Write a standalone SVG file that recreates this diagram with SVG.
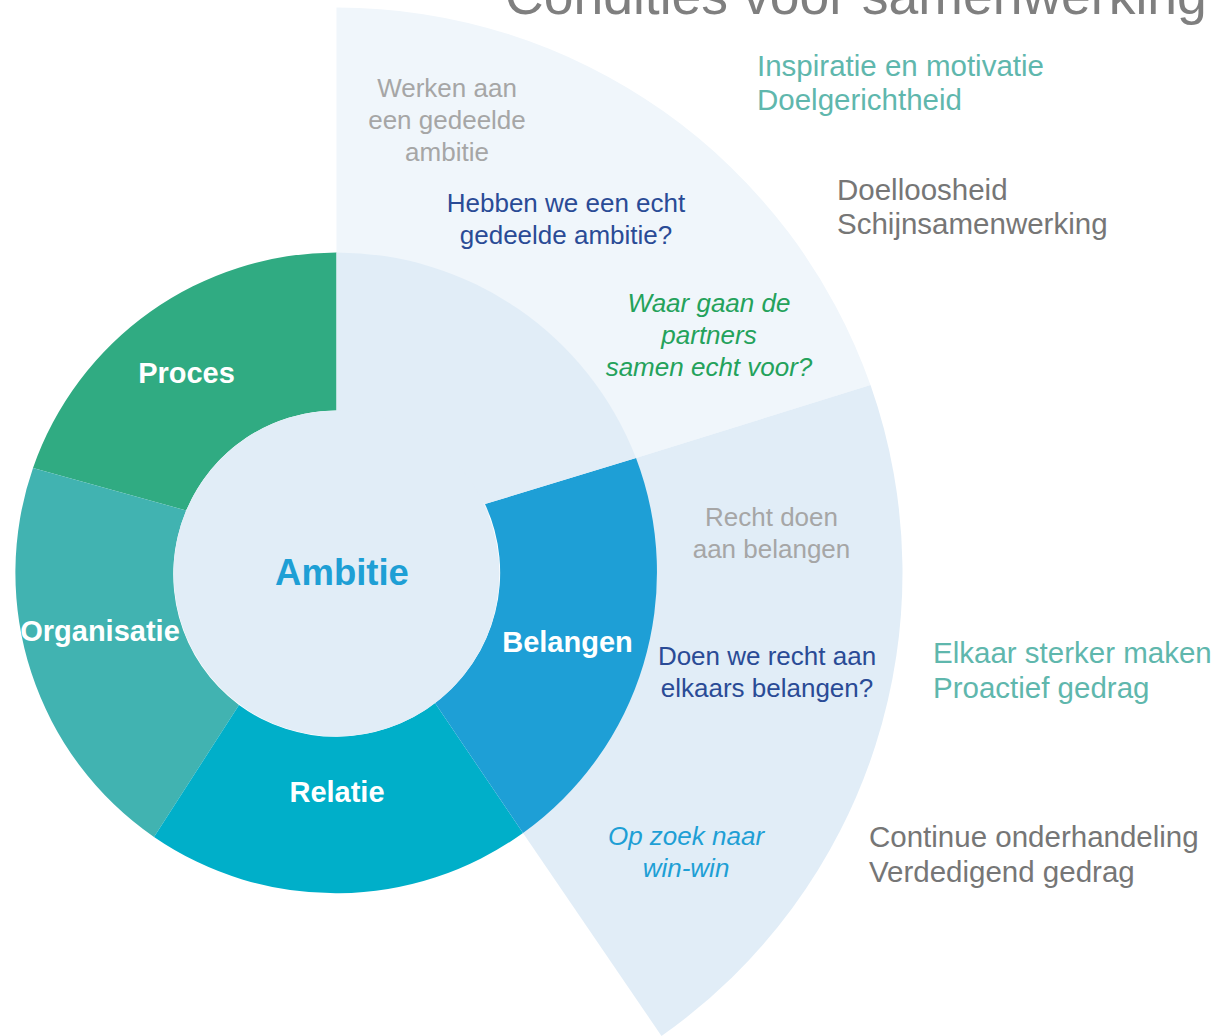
<svg xmlns="http://www.w3.org/2000/svg" width="1228" height="1036" viewBox="0 0 1228 1036">
<style>
text{font-family:"Liberation Sans",Arial,Helvetica,sans-serif}
.lab{font-size:29px;font-weight:bold;fill:#ffffff;text-anchor:middle}
.c{text-anchor:middle;font-size:26px}
.gray{fill:#a6a6a6}
.navy{fill:#2a4b96}
.it{font-style:italic}
.side{font-size:29.5px}
.teal{fill:#5fb7ad}
.dgray{fill:#767676}
</style>
<rect x="0" y="0" width="1228" height="1036" fill="#ffffff"/>
<g id="title">
<text x="505" y="14" font-size="53.5" fill="#7f7f7f">Condities voor samenwerking</text>
</g>
<g id="sector-ambitie-outer">
<path d="M336.5,573.5 L336.5,7.5 A566 566 0 0 1 870.5,385 L636,458 Z" fill="#f0f6fb"/>
<text class="c gray" x="447" y="97">Werken aan</text>
<text class="c gray" x="447" y="129">een gedeelde</text>
<text class="c gray" x="447" y="161">ambitie</text>
<text class="c navy" x="566" y="212">Hebben we een echt</text>
<text class="c navy" x="566" y="244">gedeelde ambitie?</text>
<text class="c it" x="709" y="312" fill="#24a25b" font-size="26.5">Waar gaan de</text>
<text class="c it" x="709" y="344" fill="#24a25b" font-size="26.5">partners</text>
<text class="c it" x="709" y="376" fill="#24a25b" font-size="26.5">samen echt voor?</text>
<text class="side teal" x="757" y="76">Inspiratie en motivatie</text>
<text class="side teal" x="757" y="110">Doelgerichtheid</text>
<text class="side dgray" x="837" y="200">Doelloosheid</text>
<text class="side dgray" x="837" y="234">Schijnsamenwerking</text>
</g>
<g id="sector-belangen-outer">
<path d="M636,458 L870.5,385 A566 566 0 0 1 661.5,1036 L523,833 Z" fill="#e1edf7"/>
<text class="c gray" x="771.5" y="526">Recht doen</text>
<text class="c gray" x="771.5" y="558">aan belangen</text>
<text class="c navy" x="767" y="665">Doen we recht aan</text>
<text class="c navy" x="767" y="697">elkaars belangen?</text>
<text class="c it" x="686" y="845" fill="#1e9fd5">Op zoek naar</text>
<text class="c it" x="686" y="877" fill="#1e9fd5">win-win</text>
<text class="side teal" x="933" y="663">Elkaar sterker maken</text>
<text class="side teal" x="933" y="698">Proactief gedrag</text>
<text class="side dgray" x="869" y="847">Continue onderhandeling</text>
<text class="side dgray" x="869" y="882">Verdedigend gedrag</text>
</g>
<g id="proces">
<path d="M336.5,252.5 A321 321 0 0 0 33,468 L186.2,510.5 A163 163 0 0 1 336.5,410.5 Z" fill="#30ab82"/>
<text class="lab" x="186.5" y="383">Proces</text>
</g>
<g id="organisatie">
<path d="M33,468 A321 321 0 0 0 154,837 L239,705 A163 163 0 0 1 186.2,510.5 Z" fill="#41b3b1"/>
<text class="lab" x="100" y="641">Organisatie</text>
</g>
<g id="relatie">
<path d="M154,837 A321 321 0 0 0 523,833 L435,703 A163 163 0 0 1 239,705 Z" fill="#00afc9"/>
<text class="lab" x="337" y="802">Relatie</text>
</g>
<g id="belangen">
<path d="M523,833 A321 321 0 0 0 636,458 L485,504 A163 163 0 0 1 435,703 Z" fill="#1e9fd6"/>
<text class="lab" x="567.5" y="652">Belangen</text>
</g>
<g id="ambitie">
<path d="M336.5,410.5 L336.5,252.5 A321 321 0 0 1 636,458 L485,504 Z" fill="#e1edf7"/>
<circle cx="336.5" cy="573.5" r="163" fill="#e1edf7"/>
<text x="342" y="585" font-size="36.5" font-weight="bold" fill="#1e9fd5" text-anchor="middle">Ambitie</text>
</g>
<g id="connectors"/>
</svg>
